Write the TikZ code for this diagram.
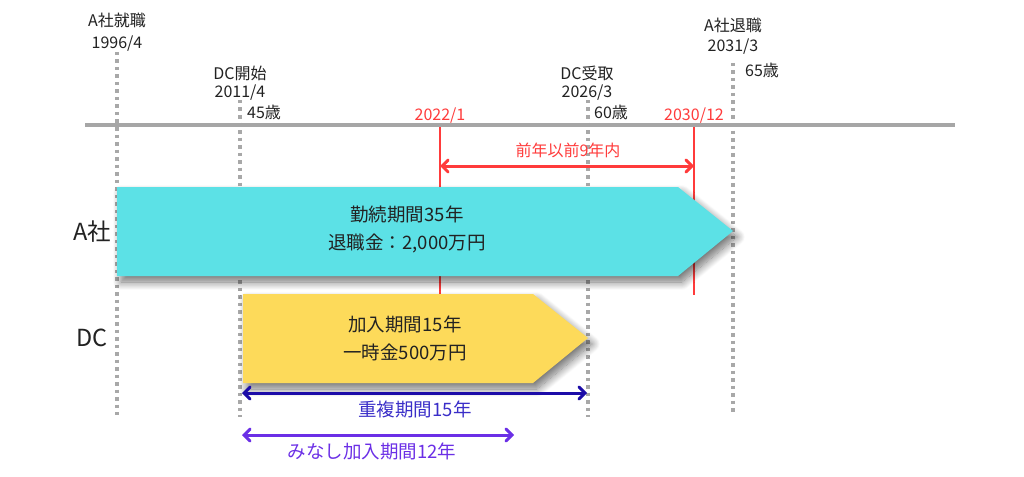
\documentclass[tikz,border=0pt]{standalone}
\usepackage{fontspec}
\setmainfont{Noto Sans CJK JP}
\usetikzlibrary{shadows.blur,arrows.meta}
\definecolor{axisgray}{HTML}{A6A6A6}
\definecolor{dotgray}{HTML}{A8A8A8}
\definecolor{redline}{HTML}{FF3B3B}
\definecolor{cyanbox}{HTML}{5CE1E6}
\definecolor{yellowbox}{HTML}{FDDA5A}
\definecolor{navy}{HTML}{1C0CA8}
\definecolor{navytext}{HTML}{3A2EC8}
\definecolor{violet}{HTML}{6B2FE6}
\definecolor{txt}{HTML}{222222}
\tikzset{
  dotline/.style={draw=dotgray, line width=3.5pt, dash pattern=on 3.5pt off 4pt},
  redv/.style={draw=redline, line width=1.2pt},
  lbl/.style={font=\fontsize{16}{18}\selectfont, text=txt, inner sep=0pt, align=center},
  redlbl/.style={font=\fontsize{16}{18}\selectfont, text=redline, inner sep=0pt},
  boxtxt/.style={font=\fontsize{18.5}{28}\selectfont, text=txt, inner sep=0pt, align=center},
  rowlbl/.style={font=\fontsize{23.5}{26}\selectfont, text=txt, inner sep=0pt},
  shad/.style={blur shadow={shadow xshift=4pt, shadow yshift=-6pt, shadow blur steps=14, shadow blur radius=8pt, shadow opacity=55}},
  dbl/.style={line width=3pt, {Straight Barb[length=6pt,width=12pt,line cap=round]}-{Straight Barb[length=6pt,width=12pt,line cap=round]}, line cap=round}
}
\begin{document}
\begin{tikzpicture}[x=1pt,y=-1pt]
\useasboundingbox (0,0) rectangle (1024,476);
% coordinates
\coordinate (a1) at (117,52);  \coordinate (a2) at (117,415);
\coordinate (d1) at (240,100); \coordinate (d2) at (240,417);
\coordinate (r1) at (588,100); \coordinate (r2) at (588,417);
\coordinate (e1) at (733,63);  \coordinate (e2) at (733,415);
\coordinate (ax1) at (85,125); \coordinate (ax2) at (955,125);
\coordinate (p1) at (440,125); \coordinate (p2) at (440,295);
\coordinate (q1) at (694,125); \coordinate (q2) at (694,295);
% dotted verticals
\draw[dotline] (a1) -- (a2);
\draw[dotline] (d1) -- (d2);
\draw[dotline] (r1) -- (r2);
\draw[dotline] (e1) -- (e2);
% red verticals
\draw[redv] (p1) -- (p2);
\draw[redv] (q1) -- (q2);
% axis
\draw[draw=axisgray, line width=4pt] (ax1) -- (ax2);
% top labels
\node[lbl] (l1) at (117,20) {A社就職};
\node[lbl] (l2) at (117,44) {1996/4};
\node[lbl] (l3) at (240,73) {DC開始};
\node[lbl] (l4) at (240,93) {2011/4};
\node[lbl] (l5) at (264,112) {45歳};
\node[lbl] (l6) at (587,73) {DC受取};
\node[lbl] (l7) at (587,93) {2026/3};
\node[lbl] (l8) at (611,112) {60歳};
\node[lbl] (l9) at (733,25) {A社退職};
\node[lbl] (l10) at (733,47) {2031/3};
\node[lbl] (l11) at (762,70) {65歳};
\node[redlbl] (rl1) at (440,116) {2022/1};
\node[redlbl] (rl2) at (694,116) {2030/12};
% red arrow
\coordinate (ra1) at (440,166); \coordinate (ra2) at (694,166);
\draw[dbl, draw=redline] (ra1) -- (ra2);
\node[redlbl] (rlab) at (568,150) {前年以前9年内};
% cyan box
\path[fill=cyanbox, shad] (117,187) -- (678,187) -- (733,231) -- (678,276) -- (117,276) -- cycle;
\node[boxtxt] (ct) at (407,229) {勤続期間35年\\退職金：2,000万円};
% yellow box
\path[fill=yellowbox, shad] (243,294) -- (533,294) -- (588,338) -- (533,383) -- (243,383) -- cycle;
\node[boxtxt] (yt) at (405,338) {加入期間15年\\一時金500万円};
% row labels
\node[rowlbl] (ra) at (92,232) {A社};
\node[rowlbl] (rd) at (92,338) {DC};
% navy arrow
\coordinate (n1) at (242,393); \coordinate (n2) at (587,393);
\draw[dbl, draw=navy] (n1) -- (n2);
\node[boxtxt, text=navytext] (nl) at (415,409) {重複期間15年};
% violet arrow
\coordinate (v1) at (242,435); \coordinate (v2) at (514,435);
\draw[dbl, draw=violet] (v1) -- (v2);
\node[boxtxt, text=violet] (vl) at (372,451) {みなし加入期間12年};
\end{tikzpicture}
\end{document}
